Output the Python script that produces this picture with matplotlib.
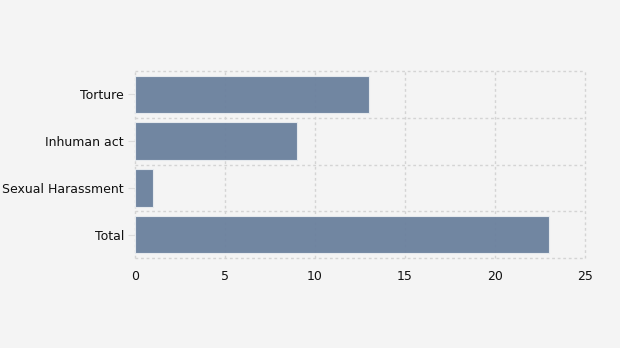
import matplotlib.pyplot as plt
import numpy as np

categories = ['Torture', 'Inhuman act', 'Sexual Harassment', 'Total']
values = [13, 9, 1, 23]
x_ticks = [0, 5, 10, 15, 20, 25]

fig = plt.figure(figsize=(6.2, 3.48), dpi=100)
fig.patch.set_facecolor('#f4f4f4')
ax = fig.add_axes([135 / 620, 1 - 258 / 348, 450 / 620, 187 / 348])
ax.set_facecolor('#f4f4f4')

pos = np.arange(len(categories))[::-1]
ax.barh(pos, values, height=0.8, color='#6a809d', alpha=0.95, edgecolor='#e8ecf0',
        linewidth=0.8, zorder=3)

ax.set_xlim(0, 25)
ax.set_ylim(-0.5, len(categories) - 0.5)
ax.set_xticks(x_ticks)
ax.set_yticks(pos)
ax.set_yticklabels(categories)
ax.set_yticks(np.arange(-0.5, len(categories)), minor=True)

ax.grid(True, axis='x', which='major', color='#d4d4d4', linestyle=(0, (2, 2)), linewidth=1, zorder=0)
ax.grid(True, axis='y', which='minor', color='#d4d4d4', linestyle=(0, (2, 2)), linewidth=1, zorder=0)
for t in ax.xaxis.get_major_ticks() + ax.yaxis.get_minor_ticks():
    t.gridline.set_clip_on(False)

for s in ax.spines.values():
    s.set_visible(False)

ax.tick_params(axis='y', which='major', length=5, color='#dddddd', labelsize=9, labelcolor='#111111', pad=3)
ax.tick_params(axis='y', which='minor', length=0)
ax.tick_params(axis='x', length=0, labelsize=9, labelcolor='#111111', pad=9)

fig.savefig('out.png', dpi=100, facecolor=fig.get_facecolor())
